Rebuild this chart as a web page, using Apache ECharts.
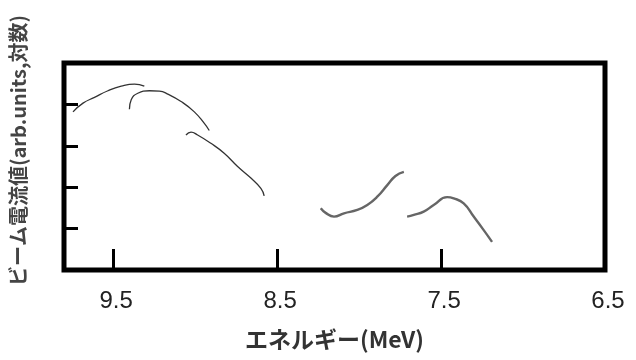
<!DOCTYPE html>
<html>
<head>
<meta charset="utf-8">
<script src="https://cdn.jsdelivr.net/npm/echarts@6/dist/echarts.min.js"></script>
<style>
  html, body { margin: 0; padding: 0; background: #fff; }
  #chart { width: 636px; height: 360px; }
</style>
</head>
<body>
<div id="chart"></div>
<script>
// energy (MeV) / beam current (arb. units, log)
const energyA = [9.745, 9.684, 9.614, 9.532, 9.451, 9.370, 9.310];
const currentA = [3.82, 4.03, 4.17, 4.33, 4.44, 4.49, 4.44];

const energyB = [9.401, 9.390, 9.350, 9.279, 9.218, 9.167, 9.086, 9.005, 8.944, 8.914];
const currentB = [3.88, 4.11, 4.27, 4.33, 4.32, 4.25, 4.07, 3.82, 3.54, 3.37];

const energyC = [9.056, 9.025, 8.985, 8.904, 8.823, 8.741, 8.660, 8.599, 8.579];
const currentC = [3.26, 3.33, 3.26, 3.06, 2.82, 2.50, 2.22, 1.97, 1.79];

const energyD = [8.234, 8.204, 8.153, 8.092, 8.011, 7.950, 7.889, 7.828, 7.778, 7.727];
const currentD = [1.49, 1.38, 1.29, 1.37, 1.45, 1.57, 1.77, 2.05, 2.27, 2.37];

const energyE = [7.707, 7.666, 7.606, 7.545, 7.463, 7.423, 7.362, 7.301, 7.241, 7.189];
const currentE = [1.29, 1.33, 1.41, 1.57, 1.76, 1.73, 1.61, 1.29, 0.97, 0.68];

const xTicks = [9.5, 8.5, 7.5, 6.5];

function pairs(xs, ys) {
  return xs.map((x, i) => [x, ys[i]]);
}

function curve(xs, ys, color, width) {
  return {
    type: 'line',
    data: pairs(xs, ys),
    smooth: true,
    showSymbol: false,
    lineStyle: { color: color, width: width },
  };
}

const chart = echarts.init(document.getElementById('chart'));
chart.setOption({
  backgroundColor: '#fff',
  animation: false,
  grid: {
    left: 62, right: 31, top: 63, bottom: 90,
    show: true,
    borderColor: '#000',
    borderWidth: 5,
  },
  xAxis: {
    type: 'value',
    inverse: true,
    min: 6.5,
    max: 9.8,
    name: 'エネルギー(MeV)',
    nameLocation: 'middle',
    nameGap: 58,
    nameTextStyle: {
      fontFamily: 'Noto Sans CJK JP',
      fontSize: 23,
      fontWeight: 'bold',
      color: '#333',
    },
    axisLine: { show: false },
    splitLine: { show: false },
    axisTick: {
      show: true,
      inside: true,
      length: 21,
      customValues: xTicks,
      lineStyle: { color: '#000', width: 3 },
    },
    axisLabel: {
      customValues: xTicks,
      margin: 19,
      fontFamily: 'Liberation Sans',
      fontSize: 24,
      color: '#222',
      padding: [0, 0, 0, 6],
      formatter: (v) => v.toFixed(1),
    },
  },
  yAxis: {
    type: 'value',
    min: 0,
    max: 5,
    interval: 1,
    name: 'ビーム電流値(arb.units,対数)',
    nameLocation: 'middle',
    nameGap: 36,
    nameRotate: 90,
    nameTextStyle: {
      fontFamily: 'Noto Sans CJK JP',
      fontSize: 20,
      fontWeight: 'bold',
      color: '#444',
      padding: [0, 0, 0, 32],
    },
    axisLine: { show: false },
    splitLine: { show: false },
    axisLabel: { show: false },
    axisTick: {
      show: true,
      inside: true,
      length: 14,
      lineStyle: { color: '#000', width: 3 },
    },
  },
  series: [
    curve(energyA, currentA, '#333', 1.3),
    curve(energyB, currentB, '#333', 1.3),
    curve(energyC, currentC, '#333', 1.3),
    curve(energyD, currentD, '#666', 2.4),
    curve(energyE, currentE, '#666', 2.4),
  ],
});
</script>
</body>
</html>
